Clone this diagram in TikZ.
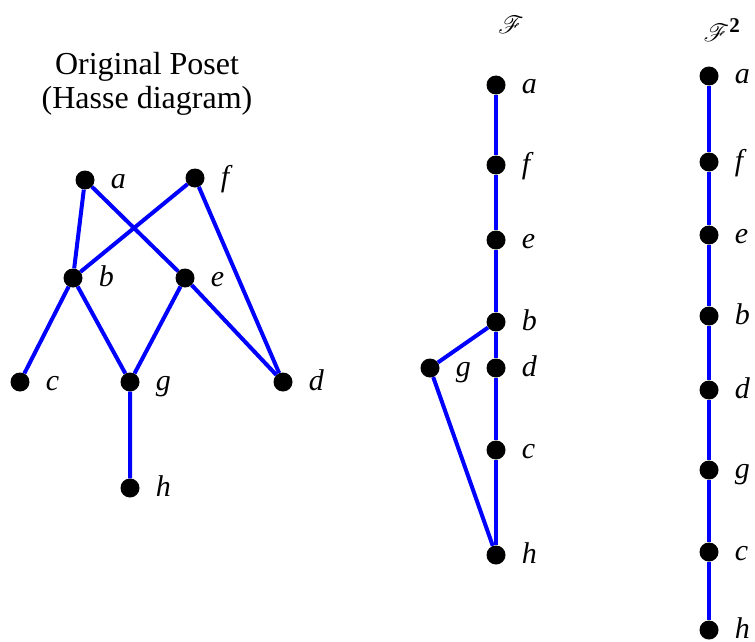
\documentclass[tikz,border=0pt]{standalone}
\usepackage{fontspec}
\setmainfont{Liberation Serif}
\usepackage{mathrsfs}
\usepackage{tikz}

\begin{document}
\begin{tikzpicture}[
        x=1pt, y=-1pt,
        lbl/.style={font=\fontsize{30}{30}\selectfont\itshape, inner sep=2pt, label distance=14pt, text height=16pt, text depth=0pt},
        pt/.style={circle, fill=black, inner sep=0pt, minimum size=19pt, label={[lbl]right:#1}},
        edge/.style={blue, line width=4pt},
        ttl/.style={font=\fontsize{32}{34}\selectfont, align=center}
    ]
        \useasboundingbox (0,0) rectangle (755,642);
        \node[ttl] (title) at (147,84) {Original Poset\\(Hasse diagram)};
        \node[pt=a] (a) at (85,180) {};
        \node[pt=f] (f) at (195,178) {};
        \node[pt=b] (b) at (73,278) {};
        \node[pt=e] (e) at (185,278) {};
        \node[pt=c] (c) at (20,382) {};
        \node[pt=g] (g) at (130,382) {};
        \node[pt=d] (d) at (283,382) {};
        \node[pt=h] (h) at (130,488) {};
        \draw[edge] (a) -- (b) (a) -- (e) (f) -- (b) (f) -- (d);
        \draw[edge] (b) -- (c) (b) -- (g) (e) -- (g) (e) -- (d) (g) -- (h);

        \node[font=\fontsize{40}{40}\selectfont] (ttlF) at (511,25) {$\mathscr{F}$};
        \node[pt=a] (Fa) at (496,85) {};
        \node[pt=f] (Ff) at (496,165) {};
        \node[pt=e] (Fe) at (496,240) {};
        \node[pt=b] (Fb) at (496,322) {};
        \node[pt=d] (Fd) at (496,368) {};
        \node[pt=c] (Fc) at (496,450) {};
        \node[pt=h] (Fh) at (496,555) {};
        \node[pt=g] (Fg) at (430,368) {};
        \draw[edge] (Fa) -- (Ff) -- (Fe) -- (Fb) -- (Fd) -- (Fc) -- (Fh);
        \draw[edge] (Fb) -- (Fg) -- (Fh);

        \node[font=\fontsize{30}{30}\selectfont] (ttlFF) at (722,30) {$\mathscr{F}^{\mathbf{2}}$};
        \node[pt=a] (Ga) at (709,76) {};
        \node[pt=f] (Gf) at (709,162) {};
        \node[pt=e] (Ge) at (709,235) {};
        \node[pt=b] (Gb) at (709,316) {};
        \node[pt=d] (Gd) at (709,390) {};
        \node[pt=g] (Gg) at (709,470) {};
        \node[pt=c] (Gc) at (709,552) {};
        \node[pt=h] (Gh) at (709,630) {};
        \draw[edge] (Ga) -- (Gf) -- (Ge) -- (Gb) -- (Gd) -- (Gg) -- (Gc) -- (Gh);
    \end{tikzpicture}
\end{document}
